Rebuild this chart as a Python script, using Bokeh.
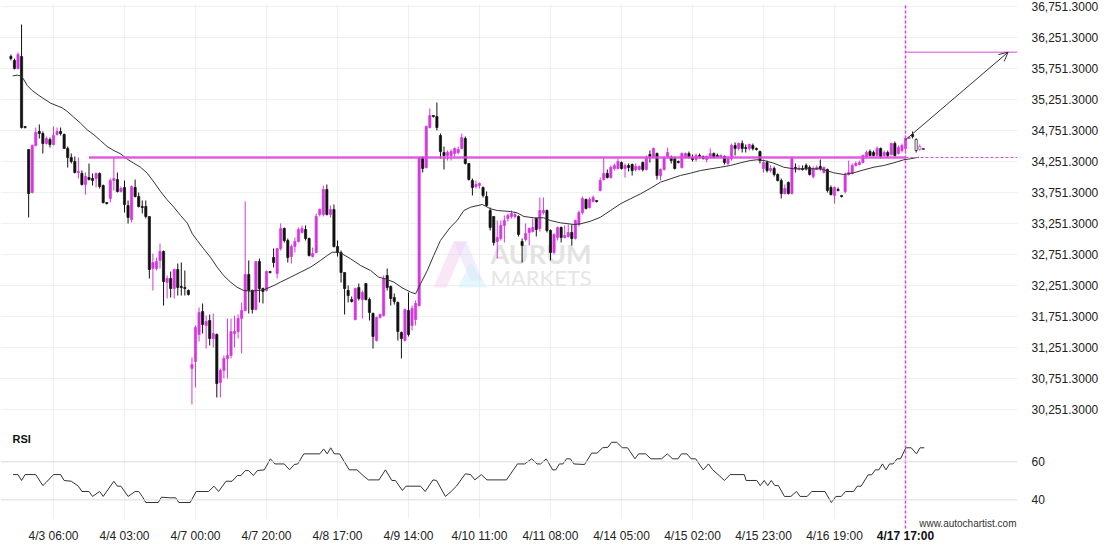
from bokeh.plotting import figure
from bokeh.models import Range1d, FixedTicker, ColumnDataSource, Arrow, OpenHead, Span
from bokeh.core.properties import value
from bokeh.embed import file_html
from bokeh.resources import INLINE

# ---------------- data (hourly candles, index 0 .. 257) ----------------
opens = [
35945,35881,35752,35945,34817,34447,33754,34511,34737,34704,
34543,34608,34527,34688,34737,34688,34463,34318,34253,34076,
34060,33882,33995,33979,33979,34060,33866,33592,33657,33947,
33963,33770,33834,33544,33318,33834,33689,33528,33528,33367,
32529,32529,32658,32803,32303,32367,32206,32512,32239,32222,
32174,30917,31030,31465,31836,31610,31691,31400,31465,30691,
30885,31078,31126,31481,31513,31723,31852,32432,32174,31868,
32641,32206,32174,32480,32706,32448,32851,33173,32980,32722,
32883,32964,33109,33157,33012,32722,32787,33399,33399,33802,
33399,33480,32883,32787,32464,32174,32029,31707,32222,32029,
32287,32029,31803,31368,31739,31771,32416,32239,32061,31981,
31497,31368,31852,31610,31707,31932,34318,34156,34801,34995,
34978,34672,34398,34350,34350,34382,34398,34463,34624,34221,
33947,33850,33866,33834,33689,33463,33367,32964,33012,33222,
33335,33367,33367,33367,32964,32996,33109,33125,33335,33173,
33431,33463,33141,32787,33028,33189,33028,33044,33109,33012,
33238,33431,33641,33512,33609,33625,33786,33963,34060,33995,
34140,34140,34237,34140,34189,34205,34124,34124,34237,34124,
34366,34318,34382,34027,34124,34318,34318,34302,34253,34156,
34318,34382,34318,34285,34350,34334,34285,34318,34382,34350,
34318,34334,34221,34302,34511,34463,34543,34479,34463,34511,
34463,34414,34140,34237,34108,34140,34044,33947,33737,33915,
33737,34156,34124,34140,34189,34156,34011,34124,34173,34076,
34124,33834,33705,33802,33705,33770,34044,34060,34189,34205,
34237,34318,34414,34398,34350,34463,34350,34398,34366,34543,
34382,34430,34463,34624,34688,34608,34447,34463]

highs = [
35978,35913,36010,36461,34817,34447,34527,34801,34850,34737,
34656,34640,34817,34801,34801,34704,34495,34382,34334,34318,
34108,34076,34221,34060,34076,34076,33882,33592,33979,34318,
34076,33850,33947,33625,33866,33963,33754,33625,33625,33367,
32770,32706,32932,32819,32416,32480,32529,32609,32625,32496,
32190,31094,31610,31900,31965,31771,31787,31803,31481,30917,
31126,31723,31723,31771,31787,31981,33609,32658,32190,32641,
32690,32222,32496,32480,32851,32851,33254,33189,33012,32915,
33028,33189,33222,33222,33028,32867,33415,33496,33866,33882,
33544,33560,32980,32819,32464,32255,32077,32222,32287,32174,
32287,32061,31820,31755,31803,32416,32529,32255,32126,31997,
31513,31884,32142,31932,32013,34318,34334,34833,35107,34995,
35204,34704,34495,34430,34447,34479,34495,34704,34656,34221,
33979,33947,33915,33850,33770,33512,33367,33302,33302,33383,
33415,33463,33431,33383,33012,33254,33189,33335,33335,33673,
33673,33480,33157,33093,33206,33206,33222,33238,33238,33318,
33463,33689,33657,33673,33705,33625,33995,34318,34124,34189,
34221,34302,34253,34221,34221,34221,34221,34189,34253,34350,
34430,34479,34398,34140,34334,34479,34350,34334,34269,34398,
34398,34414,34366,34382,34382,34350,34350,34463,34398,34382,
34366,34350,34334,34543,34559,34559,34592,34527,34543,34543,
34479,34430,34285,34269,34189,34173,34060,33979,33882,33931,
34334,34221,34189,34189,34221,34189,34173,34189,34285,34173,
34140,33866,33850,33834,33705,34076,34269,34221,34253,34269,
34366,34430,34447,34430,34495,34479,34430,34430,34559,34576,
34511,34543,34656,34656,34737,34624,34527,34463]

lows = [
35881,35736,35736,34785,34785,33351,33737,34495,34624,34382,
34527,34479,34511,34672,34672,34463,34156,34221,34060,33979,
33866,33721,33947,33866,33834,33818,33576,33560,33592,33786,
33754,33754,33431,33254,33270,33673,33512,33415,33335,32367,
32174,32496,32529,31932,32045,32061,32045,32093,32093,32093,
32093,30337,30611,31352,31481,31239,31288,31255,30450,30450,
30756,30756,31078,31255,31400,31159,31836,31803,31803,31852,
31981,31965,32158,32448,32545,32367,32819,32948,32625,32609,
32787,32948,33093,32980,32722,32706,32770,33367,33367,33383,
33351,32867,32722,32303,31787,31981,31981,31691,32013,31723,
32013,31691,31239,31352,31723,31755,32174,31932,31948,31368,
31078,31352,31433,31529,31610,31916,34076,34140,34785,34962,
34753,34302,34124,34269,34269,34334,34366,34447,34205,33947,
33705,33818,33818,33673,33528,33141,32899,32690,32980,32948,
33286,33335,33335,33044,32625,32964,32899,33109,33044,33125,
33399,33109,32658,32754,32980,32948,33012,33028,32899,32996,
33206,33399,33480,33496,33592,33592,33770,33947,33979,33979,
34108,34124,34124,33995,34092,34027,34092,34108,34092,34108,
34237,34302,33963,33947,34108,34302,34221,34124,34221,34140,
34302,34302,34253,34253,34302,34285,34237,34302,34302,34318,
34302,34205,34189,34269,34350,34430,34398,34398,34430,34430,
34430,34221,34076,34076,34076,34011,33931,33657,33721,33721,
33721,34076,34108,34108,34108,34027,33979,34124,34108,34060,
33754,33705,33576,33770,33673,33737,34027,34044,34173,34189,
34221,34302,34334,34334,34334,34302,34334,34318,34350,34334,
34366,34398,34430,34624,34624,34398,34430,34447]

closes = [
35913,35752,35978,34801,34801,33737,34511,34721,34704,34543,
34624,34527,34672,34737,34704,34463,34318,34253,34076,34092,
33882,34011,33963,33947,34060,33850,33592,33576,33947,33979,
33770,33818,33560,33351,33850,33689,33528,33512,33367,32512,
32625,32641,32803,32319,32367,32206,32512,32222,32222,32206,
32110,30981,31578,31820,31626,31674,31400,31481,30675,30885,
31078,31126,31513,31513,31723,31852,32432,32174,31868,32641,
32206,32158,32480,32464,32625,32851,33173,32980,32706,32883,
32964,33157,33173,33012,32738,32770,33367,33480,33802,33399,
33480,32883,32787,32464,32206,32093,31997,32206,32045,32142,
32029,31820,31433,31739,31787,32367,32222,32045,31997,31513,
31400,31868,31465,31884,31965,34318,34140,34817,34995,34978,
34801,34414,34350,34398,34414,34463,34447,34640,34221,33963,
33834,33882,33899,33705,33544,33189,32948,33028,33222,33302,
33383,33415,33399,33077,32899,33093,33173,33189,33157,33463,
33463,33141,32787,33077,33189,33028,33061,33109,33012,33302,
33431,33657,33496,33641,33673,33609,33947,34060,33995,34156,
34189,34253,34140,34189,34156,34108,34173,34173,34124,34318,
34334,34463,34027,34124,34318,34398,34269,34140,34237,34382,
34382,34318,34285,34350,34334,34302,34334,34382,34318,34334,
34350,34237,34302,34511,34463,34543,34463,34463,34527,34463,
34447,34269,34237,34108,34140,34044,33947,33737,33818,33737,
34302,34140,34140,34124,34140,34044,34140,34156,34140,34156,
33786,33721,33834,33786,33689,34044,34076,34189,34221,34237,
34350,34398,34350,34350,34463,34334,34398,34350,34543,34350,
34479,34511,34624,34640,34656,34430,34495,34447]

# moving average (candle index, price)
ma_x = [0.5,1.8,2.7,3.5,4.6,6,7.9,9.3,11.2,13,
        14.4,15.9,17.7,19.6,21.5,23.4,25.2,27.1,29,30.9,
        32.8,34.6,36.5,38.4,40.3,42.1,44,45.9,47.8,49.7,
        51.1,52.5,54.3,56.2,58.1,60,61.9,63.7,65.6,67.5,
        69.4,71.2,74.1,75.9,78.8,81.6,84.4,87.2,89.1,90.5,
        91.9,93.3,95.7,98.5,101.3,103.6,105.5,107.9,110.2,112.6,
        114,115.4,117.3,119.1,121,123.8,125.7,127.6,129.5,132.8,
        135.1,137,140.7,142.6,144.5,147.3,150.1,152,154.8,158.6,
        160.5,163.3,166.1,168.9,171.7,174.5,177.4,180.2,183,185.8,
        188.6,191.4,194.3,197.1,199.9,202.7,205.5,208.3,210.2,212.1,
        214.9,217.7,220.5,223.4,228.1,231.8,234.6,237.4,240.3,243.1,
        245.9,248.7,251.5,253.4,255.8]
ma_v = [35634,35644,35634,35586,35478,35397,35317,35264,35193,35151,
        35119,35059,34967,34871,34764,34683,34592,34495,34430,34377,
        34290,34226,34161,34065,33920,33774,33636,33517,33383,33259,
        33088,32980,32846,32711,32550,32411,32308,32227,32174,32163,
        32174,32185,32255,32308,32389,32469,32550,32658,32738,32791,
        32791,32765,32685,32577,32497,32389,32362,32308,32218,32147,
        32121,32282,32497,32738,32980,33194,33302,33463,33517,33560,
        33491,33463,33447,33426,33367,33346,33346,33302,33265,33238,
        33249,33291,33356,33463,33571,33652,33733,33823,33920,33974,
        34028,34065,34108,34135,34161,34189,34232,34269,34281,34269,
        34226,34161,34135,34135,34135,34071,34044,34071,34119,34161,
        34189,34232,34281,34297,34323]

# RSI (candle index, value)
rsi_x = [0.6,2,3,4,7,9,10,12,14,15,
         17,19,20,22,23,25,26,29,30,31,
         33,35,36,37,38,41.5,42.4,44.6,46.4,47.3,
         50.5,52.2,55.7,57.2,58.5,60.6,62.3,63.8,64.8,66,
         67,68.3,69.4,71.4,73.1,74.4,77,78.5,79.8,80.8,
         82.5,87,88.1,89.1,90.1,91.1,92.6,95.3,97.5,99.2,
         100.7,103.7,105.5,107.3,108.3,110.3,111.3,115.4,116.7,118.9,
         119.9,122.4,124,125.5,128,129.5,130.7,132.5,134.1,139.6,
         142.7,144.7,146.7,148.2,149.2,150.8,152.6,153.5,154.5,155.5,
         156.5,157.6,158.6,161.6,163.6,165.1,166.7,168.2,169.2,170.7,
         172.2,173.7,175.8,176.8,178.8,180.3,183.3,184.9,186.4,187.9,
         188.9,190.4,191.6,192.9,195,196.5,197.7,199.5,201,202.6,
         206.6,207.1,210.1,211.1,212.2,213.2,214.2,215.2,216.2,217.9,
         219.7,221.3,222.3,224.3,225.6,229.3,231.1,232.4,233.9,235.1,
         237.4,238.4,239.5,241.5,242.5,243.5,244.5,245.5,246.5,247.5,
         248.5,249.6,250.6,252.1,253.6,255.1,256.1,257.3]
rsi_v = [53.3,53.3,50.2,53.3,53.3,47.5,49.3,53.3,53.3,50.2,
         49.8,47.2,44.4,44.4,41.8,44.4,41.8,49.8,47.2,47.2,
         41.8,44.4,44.4,41.8,38.6,38.6,41.4,41.1,41.1,38.6,
         38.6,44.4,44.4,47.2,44.4,49.8,49.8,52.8,52.8,55.4,
         55.4,52.8,55.4,55.8,61.6,58.9,58.9,55.8,58.6,58.9,
         64.2,64.2,66.8,64.2,67.4,64.2,64.2,55.8,55.8,52.8,
         50.5,50.5,55.8,50.2,50.2,44.9,47.2,47.2,44.4,50.5,
         50.2,41.8,44.4,47.2,53.7,53.3,50.5,53.3,50.5,50.5,
         58.9,58.9,61.6,58.9,58.9,61.6,55.8,55.8,58.9,58.9,
         61.6,61.6,58.9,58.6,64.6,64.6,67.4,67.7,70.3,70.3,
         67.4,67.4,61.6,64.2,64.2,61.6,61.6,64.2,61.6,61.6,
         64.2,64.2,61.6,61.6,55.8,58.9,55.8,52.8,50.2,53.3,
         53.3,50.2,50.2,47.5,50.2,47.5,50.2,47.5,47.5,41.8,
         41.8,44.4,41.8,41.8,44.4,44.4,38.6,41.8,41.8,44.4,
         44.4,47.2,47.2,53.2,53.2,55.8,55.8,58.9,55.8,58.9,
         58.9,61.6,61.6,67.4,67.4,64.2,67.4,67.4]

# axis ticks
tick_idx = [12, 32, 52, 72, 92, 112, 132, 152, 172, 192, 212, 232, 252]
tick_labels = ["4/3 06:00", "4/4 03:00", "4/7 00:00", "4/7 20:00", "4/8 17:00",
               "4/9 14:00", "4/10 11:00", "4/11 08:00", "4/14 05:00", "4/15 02:00",
               "4/15 23:00", "4/16 19:00", "4/17 17:00"]
price_ticks = [30251.3, 30751.3, 31251.3, 31751.3, 32251.3, 32751.3, 33251.3,
               33751.3, 34251.3, 34751.3, 35251.3, 35751.3, 36251.3, 36751.3]
rsi_ticks = [40, 60]

# pattern annotation values
resistance_price = 34318
resistance_start_idx = 22
signal_idx = 252
arrow_start_price = 34603
target_price = 36015
target_idx = 280.9
n_closed = 255   # candles from this index on are still forming (hollow)

# ---------------- layout ----------------
W, H = 1108, 548
FRAME_W = 1017
X_START, X_END = -2.93, 283.55
Y_START, Y_END = 28015.9, 36848.0
RSI_START, RSI_END = 14.4, 302.8

MAGENTA = "#d636e0"
BLACK = "#111111"
LINE_MAG = "#dd4bdd"


def py(page_y):
    return Y_END - page_y * (Y_END - Y_START) / H


def px(page_x):
    return X_START + page_x * (X_END - X_START) / FRAME_W


def rsi_to_main(r):
    return Y_START + (r - RSI_START) / (RSI_END - RSI_START) * (Y_END - Y_START)


p = figure(width=W, height=H, x_range=Range1d(X_START, X_END), y_range=Range1d(Y_START, Y_END),
           output_backend="svg", toolbar_location=None, x_axis_location=None,
           y_axis_location="right", min_border_left=0, min_border_top=0, min_border_bottom=0,
           min_border_right=W - FRAME_W, outline_line_color=None)
p.extra_y_ranges = {"rsi": Range1d(RSI_START, RSI_END)}
p.xgrid.visible = False
p.ygrid.ticker = FixedTicker(ticks=price_ticks)
p.ygrid.grid_line_color = "#efefef"

# right axis: prices plus RSI levels
axis_ticks, overrides = [], {}
for v in price_ticks:
    axis_ticks.append(v)
    overrides[v] = f"{v:,.4f}"
for r in rsi_ticks:
    pos = round(rsi_to_main(r), 1)
    axis_ticks.append(pos)
    overrides[pos] = str(r)
ax = p.yaxis[0]
ax.ticker = FixedTicker(ticks=axis_ticks)
ax.major_label_overrides = overrides
ax.axis_line_color = None
ax.major_tick_line_color = None
ax.minor_tick_line_color = None
ax.major_label_standoff = 8
ax.major_label_text_font = "Liberation Sans"
ax.major_label_text_font_size = "12px"
ax.major_label_text_color = "#222222"

# vertical grid lines
p.segment(x0=tick_idx, x1=tick_idx, y0=[py(4)] * len(tick_idx), y1=[py(518)] * len(tick_idx),
          line_color="#efefef", line_width=1)

# watermark
p.patch([px(433), px(446), px(466), px(453)], [py(287), py(287), py(241), py(241)],
        fill_color="#f1c9f0", fill_alpha=0.45, line_color=None)
p.patch([px(453), px(466), px(482), px(470)], [py(241), py(241), py(280), py(280)],
        fill_color="#e2d6f6", fill_alpha=0.45, line_color=None)
p.patch([px(470), px(487), px(457)], [py(262), py(287), py(287)],
        fill_color="#cfeefa", fill_alpha=0.55, line_color=None)
p.text(x=[px(490)], y=[py(253)], text=["AURUM"], text_font=value("Lato"), text_font_size="27px",
       text_font_style="bold", text_color="#e3e3e3", text_baseline="middle", text_align="left")
p.text(x=[px(490)], y=[py(277)], text=["MARKETS"], text_font=value("Lato"), text_font_size="22px",
       text_color="#e6e6e6", text_baseline="middle", text_align="left")

# RSI levels and line
for r in rsi_ticks:
    p.add_layout(Span(location=r, dimension="width", y_range_name="rsi",
                      line_color="#dcdcdc", line_width=1))
p.line(rsi_x, rsi_v, y_range_name="rsi", line_color="#333333", line_width=1)

# candles
idx = list(range(len(opens)))
cols = [MAGENTA if c > o else BLACK for o, c in zip(opens, closes)]
tops = [max(o, c) for o, c in zip(opens, closes)]
bots = [min(o, c) for o, c in zip(opens, closes)]
fills = [cols[i] if i < n_closed else "white" for i in idx]
src = ColumnDataSource(dict(x=idx, h=highs, l=lows, t=tops, b=bots, c=cols, f=fills))
p.segment(x0="x", x1="x", y0="l", y1="h", line_color="c", line_width=1, source=src)
p.vbar(x="x", width=0.62, top="t", bottom="b", fill_color="f", line_color="c",
       line_width=0.7, source=src)

# moving average
p.line(ma_x, ma_v, line_color="#333333", line_width=1)

# resistance level
p.segment(x0=[resistance_start_idx], x1=[signal_idx], y0=[resistance_price], y1=[resistance_price],
          line_color=LINE_MAG, line_width=2.5, line_alpha=0.9)
p.segment(x0=[signal_idx], x1=[X_END], y0=[resistance_price], y1=[resistance_price],
          line_color=LINE_MAG, line_width=1, line_dash="3 2")
# signal time
p.segment(x0=[signal_idx], x1=[signal_idx], y0=[py(5)], y1=[py(528)],
          line_color="#e03ee6", line_width=1.5, line_dash="3 2")
# target
p.segment(x0=[signal_idx], x1=[X_END], y0=[target_price], y1=[target_price],
          line_color=LINE_MAG, line_width=1)
p.add_layout(Arrow(end=OpenHead(size=9, line_color="#333333", line_width=1),
                   x_start=signal_idx, y_start=arrow_start_price, x_end=target_idx, y_end=target_price,
                   line_color="#333333", line_width=1))

# texts
p.text(x=[px(12)], y=[py(438)], text=["RSI"], text_font=value("Liberation Sans"),
       text_font_size="11px", text_font_style="bold", text_color="#111111",
       text_baseline="middle", text_align="left")
p.text(x=[px(1016)], y=[py(523)], text=["www.autochartist.com"], text_font=value("Liberation Sans"),
       text_font_size="10px", text_color="#333333", text_baseline="middle", text_align="right")
p.text(x=tick_idx[:-1], y=[py(535)] * (len(tick_idx) - 1), text=tick_labels[:-1],
       text_font=value("Liberation Sans"), text_font_size="12px", text_color="#222222",
       text_baseline="middle", text_align="center")
p.text(x=tick_idx[-1:], y=[py(535)], text=tick_labels[-1:],
       text_font=value("Liberation Sans"), text_font_size="12px", text_font_style="bold",
       text_color="#111111", text_baseline="middle", text_align="center")

open("out.html", "w").write(file_html(p, INLINE))
